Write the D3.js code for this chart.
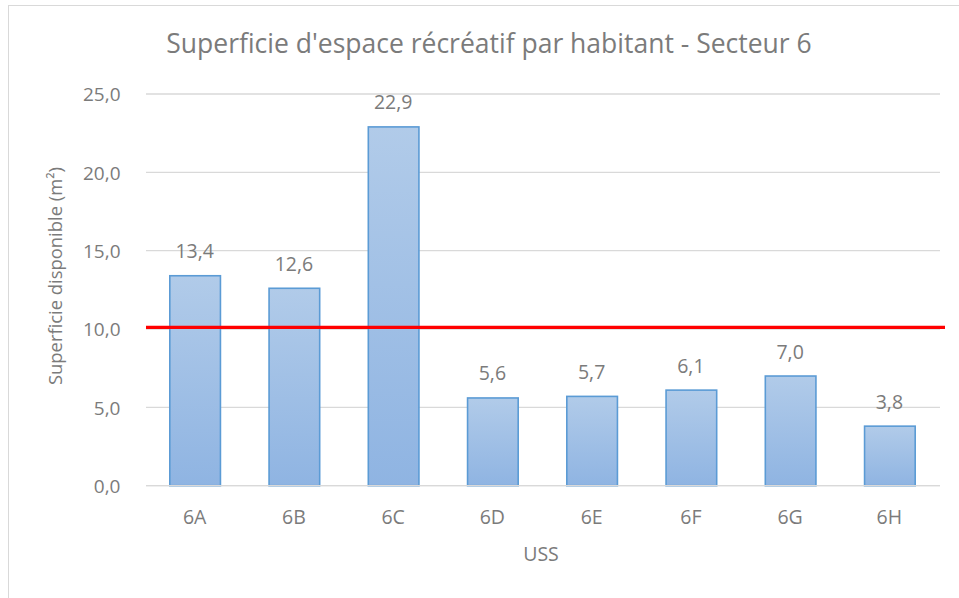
<!DOCTYPE html>
<html><head><meta charset="utf-8">
<script src="https://cdn.jsdelivr.net/npm/d3@7"></script>
<style>body{margin:0;background:#fff;} svg{display:block;}</style>
</head><body>
<svg id="chart" width="959" height="598"></svg>
<script>
const categories = ["6A","6B","6C","6D","6E","6F","6G","6H"];
const values = [13.4,12.6,22.9,5.6,5.7,6.1,7.0,3.8];
const yTicks = [0,5,10,15,20,25];
const threshold = 10.1;
const title = "Superficie d'espace récréatif par habitant - Secteur 6";
const xTitle = "USS";
const yTitle = "Superficie disponible (m²)";

(function(){
const svg = d3.select("#chart");
const font = "'Open Sans', 'Liberation Sans', sans-serif";
const txt = "#7b7b7b";
const pL = 146, pR = 940, pT = 94, pB = 485.7;
const fmt = d => d3.format(".1f")(d).replace(".",",");

svg.append("rect").attr("x",8.5).attr("y",5.5).attr("width",980).attr("height",620)
  .attr("fill","none").attr("stroke","#d9d9d9").attr("stroke-width",1);

const defs = svg.append("defs");
const grad = defs.append("linearGradient").attr("id","bg").attr("x1",0).attr("y1",0).attr("x2",0).attr("y2",1);
grad.append("stop").attr("offset","0%").attr("stop-color","#b1cbe9");
grad.append("stop").attr("offset","100%").attr("stop-color","#8fb4e2");

const x = d3.scaleBand().domain(categories).range([pL,pR]).paddingInner(0.5).paddingOuter(0.25);
const y = d3.scaleLinear().domain([0,25]).range([pB,pT]);

svg.append("g").selectAll("line").data(yTicks).join("line")
  .attr("x1",pL).attr("x2",pR).attr("y1",d=>y(d)).attr("y2",d=>y(d))
  .attr("stroke","#d9d9d9").attr("stroke-width",1.3);

const yAxis = d3.axisLeft(y).tickValues(yTicks).tickSize(0).tickPadding(0).tickFormat(fmt);
const gy = svg.append("g").attr("transform",`translate(120.5,0)`).call(yAxis);
gy.select(".domain").remove();
gy.selectAll("text").attr("font-family",font).attr("font-size",19).attr("fill",txt).attr("dy","0.36em");

svg.append("g").selectAll("rect").data(values).join("rect")
  .attr("x",(d,i)=>x(categories[i])-1).attr("width",x.bandwidth()+1)
  .attr("y",d=>y(d)).attr("height",d=>pB-y(d))
  .attr("fill","url(#bg)").attr("stroke","#5b9bd5").attr("stroke-width",1.6);

const xAxis = d3.axisBottom(x).tickSize(0).tickPadding(0);
const gx = svg.append("g").attr("transform",`translate(-1,0)`).call(xAxis);
gx.select(".domain").remove();
gx.selectAll("text").attr("font-family",font).attr("font-size",19.5).attr("fill",txt)
  .attr("y",524).attr("dy",null);
svg.append("line").attr("x1",pL).attr("x2",pR).attr("y1",pB).attr("y2",pB)
  .attr("stroke","#d9d9d9").attr("stroke-width",1.3);

svg.append("g").selectAll("text").data(values).join("text")
  .attr("x",(d,i)=>x(categories[i])+x.bandwidth()/2-1)
  .attr("y",d=>y(d)-17.5)
  .attr("text-anchor","middle").attr("font-family",font).attr("font-size",19.5).attr("fill",txt)
  .text(fmt);

svg.append("line").attr("x1",pL).attr("x2",945).attr("y1",y(threshold)).attr("y2",y(threshold))
  .attr("stroke","#ff0000").attr("stroke-width",3.2);

svg.append("text").attr("x",489).attr("y",53).attr("text-anchor","middle")
  .attr("font-family",font).attr("font-size",26.5).attr("fill",txt).text(title);

svg.append("text").attr("x",541).attr("y",561).attr("text-anchor","middle")
  .attr("font-family",font).attr("font-size",19.5).attr("fill",txt).text(xTitle);
svg.append("text").attr("transform",`translate(62,276) rotate(-90)`).attr("text-anchor","middle")
  .attr("font-family",font).attr("font-size",18.4).attr("fill",txt).text(yTitle);
})();
</script>
</body></html>
